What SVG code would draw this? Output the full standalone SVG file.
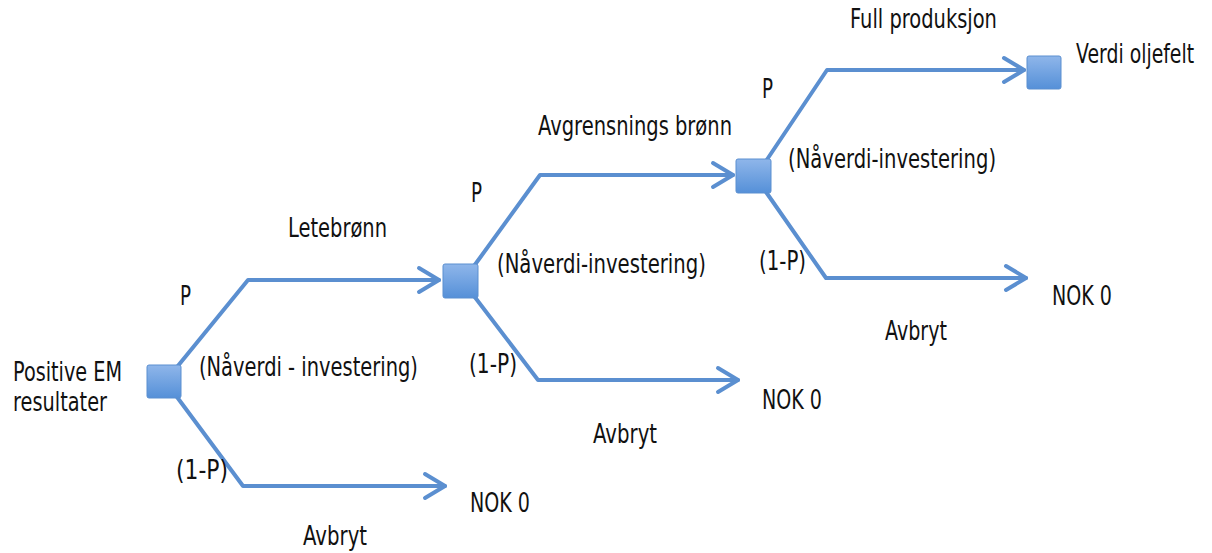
<svg xmlns="http://www.w3.org/2000/svg" width="1212" height="553" viewBox="0 0 1212 553">
<style>
text{font-family:"DejaVu Sans","Liberation Sans",sans-serif;font-size:26px;fill:#111}
.c{fill:none;stroke:#5b8fd0;stroke-width:4;stroke-linejoin:round;stroke-linecap:round}
.n{fill:url(#g);stroke:#5b8fd0;stroke-width:1}
</style>
<defs>
<linearGradient id="g" x1="0" y1="0" x2="0" y2="1">
<stop offset="0" stop-color="#8fb6ea"/>
<stop offset="1" stop-color="#5590d8"/>
</linearGradient>
<marker id="a" markerWidth="8" markerHeight="8" refX="6" refY="4" orient="auto" markerUnits="strokeWidth">
<path d="M1,1 L6,4 L1,7" fill="none" stroke="#5b8fd0" stroke-width="1" stroke-linecap="round" stroke-linejoin="round"/>
</marker>
</defs>
<g id="connectors">
<polyline class="c" points="177,367 248,280 439,280" marker-end="url(#a)"/>
<polyline class="c" points="177,397 243,486 445,486" marker-end="url(#a)"/>
<polyline class="c" points="474,266 540,175 733,175" marker-end="url(#a)"/>
<polyline class="c" points="474,296 538,380 738,380" marker-end="url(#a)"/>
<polyline class="c" points="766,161 827,70 1024,70" marker-end="url(#a)"/>
<polyline class="c" points="766,192 826,278 1026,278" marker-end="url(#a)"/>
</g>
<g id="node1"><rect class="n" x="147" y="365" width="34" height="33" rx="2"/></g>
<g id="node2"><rect class="n" x="443" y="264" width="35" height="34" rx="2"/></g>
<g id="node3"><rect class="n" x="736" y="159" width="35" height="34" rx="2"/></g>
<g id="node4"><rect class="n" x="1027" y="56" width="34" height="33" rx="2"/></g>
<g id="labels" transform="scale(0.74,1)">
<text x="17.6" y="381" textLength="147.3" lengthAdjust="spacingAndGlyphs">Positive EM</text>
<text x="17.6" y="411" textLength="127" lengthAdjust="spacingAndGlyphs">resultater</text>
<text x="243.2" y="305" textLength="14.9" lengthAdjust="spacingAndGlyphs">P</text>
<text x="268.9" y="376" textLength="295.9" lengthAdjust="spacingAndGlyphs">(Nåverdi - investering)</text>
<text x="237.8" y="479" textLength="70.3" lengthAdjust="spacingAndGlyphs">(1-P)</text>
<text x="635.1" y="512" textLength="81.1" lengthAdjust="spacingAndGlyphs">NOK 0</text>
<text x="409.5" y="545" textLength="86.5" lengthAdjust="spacingAndGlyphs">Avbryt</text>
<text x="389.2" y="237" textLength="133.8" lengthAdjust="spacingAndGlyphs">Letebrønn</text>
<text x="636.5" y="202" textLength="14.9" lengthAdjust="spacingAndGlyphs">P</text>
<text x="671.6" y="273" textLength="282.4" lengthAdjust="spacingAndGlyphs">(Nåverdi-investering)</text>
<text x="633.8" y="373" textLength="64.9" lengthAdjust="spacingAndGlyphs">(1-P)</text>
<text x="1029.7" y="409" textLength="81.1" lengthAdjust="spacingAndGlyphs">NOK 0</text>
<text x="801.4" y="443" textLength="86.5" lengthAdjust="spacingAndGlyphs">Avbryt</text>
<text x="727" y="135" textLength="262.2" lengthAdjust="spacingAndGlyphs">Avgrensnings brønn</text>
<text x="1029.7" y="98" textLength="14.9" lengthAdjust="spacingAndGlyphs">P</text>
<text x="1064.9" y="168" textLength="281.1" lengthAdjust="spacingAndGlyphs">(Nåverdi-investering)</text>
<text x="1025.7" y="270" textLength="63.5" lengthAdjust="spacingAndGlyphs">(1-P)</text>
<text x="1421.6" y="305" textLength="81.1" lengthAdjust="spacingAndGlyphs">NOK 0</text>
<text x="1195.9" y="340" textLength="83.8" lengthAdjust="spacingAndGlyphs">Avbryt</text>
<text x="1148.6" y="28" textLength="198.6" lengthAdjust="spacingAndGlyphs">Full produksjon</text>
<text x="1454.1" y="63" textLength="159.5" lengthAdjust="spacingAndGlyphs">Verdi oljefelt</text>
</g>
</svg>
